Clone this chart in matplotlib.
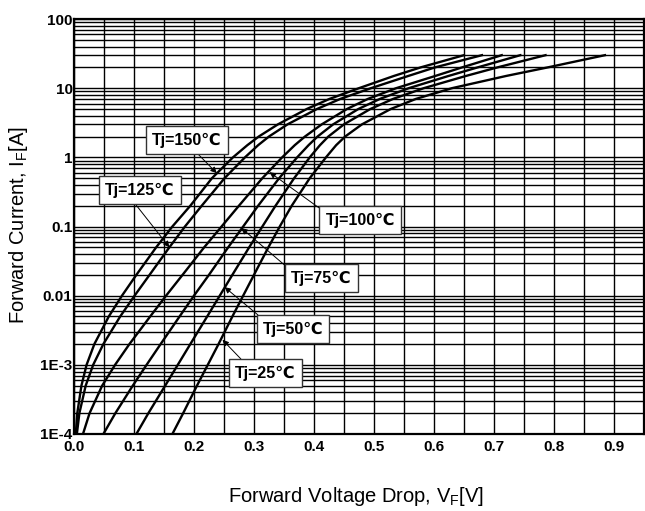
import numpy as np
import matplotlib
matplotlib.use('Agg')
from matplotlib import pyplot as plt
from matplotlib import ticker

plt.rcParams['font.family'] = ['Liberation Sans', 'DejaVu Sans']
plt.rcParams['mathtext.fontset'] = 'custom'
plt.rcParams['mathtext.rm'] = 'Liberation Sans'

# forward current points (A) and forward voltage (V) read per junction temperature
current = [1e-4, 2e-4, 5e-4, 1e-3, 2e-3, 5e-3, 1e-2, 2e-2, 5e-2, 0.1, 0.2, 0.5,
           1, 1.5, 2, 3, 5, 7, 10, 15, 20, 30]
vf_150 = [0.003, 0.0055, 0.0124, 0.021, 0.034, 0.058, 0.080, 0.104, 0.137, 0.164, 0.194, 0.230,
          0.265, 0.289, 0.308, 0.34, 0.388, 0.426, 0.475, 0.533, 0.578, 0.65]
vf_125 = [0.0048, 0.009, 0.0195, 0.032, 0.049, 0.077, 0.101, 0.126, 0.159, 0.185, 0.213, 0.251,
          0.285, 0.307, 0.325, 0.356, 0.405, 0.444, 0.495, 0.557, 0.602, 0.68]
vf_100 = [0.015, 0.026, 0.047, 0.0685, 0.0925, 0.127, 0.1535, 0.181, 0.217, 0.246, 0.275, 0.314,
          0.347, 0.368, 0.385, 0.413, 0.455, 0.49, 0.537, 0.602, 0.647, 0.713]
vf_75 = [0.049, 0.069, 0.098, 0.121, 0.1445, 0.176, 0.200, 0.225, 0.257, 0.282, 0.307, 0.342,
         0.372, 0.391, 0.406, 0.432, 0.474, 0.51, 0.558, 0.624, 0.673, 0.744]
vf_50 = [0.104, 0.124, 0.152, 0.173, 0.194, 0.222, 0.243, 0.264, 0.292, 0.314, 0.336, 0.367,
         0.393, 0.41, 0.424, 0.45, 0.494, 0.532, 0.583, 0.653, 0.706, 0.786]
vf_25 = [0.164, 0.182, 0.205, 0.223, 0.241, 0.264, 0.282, 0.300, 0.324, 0.343, 0.363, 0.393,
         0.42, 0.437, 0.452, 0.48, 0.528, 0.57, 0.63, 0.72, 0.79, 0.885]

labels = ['Tj=150\u2103', 'Tj=125\u2103', 'Tj=100\u2103', 'Tj=75\u2103', 'Tj=50\u2103', 'Tj=25\u2103']
curves = [vf_150, vf_125, vf_100, vf_75, vf_50, vf_25]
# label box centre and arrow tip (V, A)
label_pos = [(0.188, 1.78), (0.110, 0.337), (0.477, 0.124), (0.412, 0.018), (0.365, 0.0033), (0.319, 7.6e-4)]
tip_pos = [(0.238, 0.59), (0.159, 0.050), (0.326, 0.61), (0.279, 0.095), (0.251, 0.0133), (0.2475, 0.0023)]
rel_pos = [(0.57, 0.0), (0.36, 0.0), (0.0, 1.0), (0.0, 1.0), (0.05, 1.0), (0.2, 1.0)]

xticks = np.arange(0, 0.95, 0.1)
xtick_labels = ['0.0', '0.1', '0.2', '0.3', '0.4', '0.5', '0.6', '0.7', '0.8', '0.9']
yticks = [1e-4, 1e-3, 1e-2, 1e-1, 1, 10, 100]
ytick_labels = ['1E-4', '1E-3', '0.01', '0.1', '1', '10', '100']

fig = plt.figure(figsize=(6.45, 5.11), dpi=100)
ax = fig.add_axes([0.1147, 0.1507, 0.8837, 0.8121])

for vf in curves:
    ax.plot(vf, current, color='black', lw=1.7, zorder=3)

ax.set_yscale('log')
ax.set_xlim(0, 0.95)
ax.set_ylim(1e-4, 100)

ax.xaxis.set_major_locator(ticker.FixedLocator(xticks))
ax.xaxis.set_major_formatter(ticker.FixedFormatter(xtick_labels))
ax.xaxis.set_minor_locator(ticker.MultipleLocator(0.05))
ax.yaxis.set_major_locator(ticker.FixedLocator(yticks))
ax.yaxis.set_major_formatter(ticker.FixedFormatter(ytick_labels))
ax.yaxis.set_minor_locator(ticker.LogLocator(base=10, subs=np.arange(2, 10), numticks=20))
ax.yaxis.set_minor_formatter(ticker.NullFormatter())

ax.grid(which='both', color='black', lw=1.0)
ax.set_axisbelow(True)
ax.tick_params(which='both', length=0)
ax.tick_params(axis='x', pad=4)
ax.tick_params(axis='y', pad=1)
for t in ax.get_xticklabels() + ax.get_yticklabels():
    t.set_fontweight('bold')
    t.set_fontsize(11)
for s in ax.spines.values():
    s.set_linewidth(1.6)

ax.set_xlabel('Forward Voltage Drop, V$_\\mathregular{F}$[V]', fontsize=14.5)
ax.set_ylabel('Forward Current, I$_\\mathregular{F}$[A]', fontsize=14.5)
ax.xaxis.set_label_coords(0.495, -0.15)
ax.xaxis.label.set_va('center')
ax.yaxis.set_label_coords(-0.098, 0.504)
ax.yaxis.label.set_va('center')

for lab, lp, tp, rp in zip(labels, label_pos, tip_pos, rel_pos):
    ax.annotate(lab, xy=tp, xytext=lp, ha='center', va='center',
                fontsize=11.5, fontweight='bold', zorder=5,
                bbox=dict(boxstyle='square,pad=0.38', fc='white', ec='#333333', lw=1.0),
                arrowprops=dict(arrowstyle='-|>', color='black', lw=0.7,
                                mutation_scale=9, relpos=rp, shrinkA=0, shrinkB=0))

plt.savefig('out.png', dpi=100)
